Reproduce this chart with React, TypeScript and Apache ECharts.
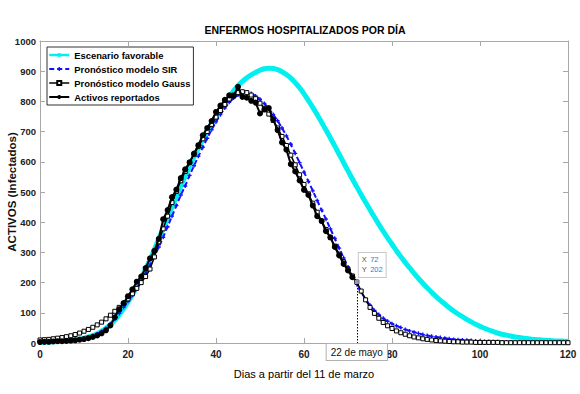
import React, { useEffect, useRef } from "react";
import * as echarts from "echarts";

const chartTitle = "ENFERMOS HOSPITALIZADOS POR DÍA";
const xAxisName = "Dias a partir del 11 de marzo";
const yAxisName = "ACTIVOS (Infectados)";
const seriesNames = [
  "Escenario favorable",
  "Pronóstico modelo SIR",
  "Pronóstico modelo Gauss",
  "Activos reportados",
];

// Escenario favorable, days 0..120
const favorableValues = [
  2, 3, 3, 4, 5, 6, 7, 9, 11, 13, 16, 20, 25, 31, 39, 49, 61, 76, 94, 114,
  136, 160, 186, 214, 244, 276, 310, 345, 380, 415, 450, 485, 520, 553, 585, 616, 646, 674, 701, 726,
  750, 772, 793, 812, 835, 852, 866, 878, 888, 896, 903, 908, 910, 909, 905, 898, 889, 877, 862, 845,
  825, 803, 780, 756, 731, 705, 679, 652, 625, 597, 570, 543, 517, 491, 466, 441, 417, 393, 370, 348,
  327, 306, 286, 267, 249, 231, 214, 198, 183, 168, 154, 141, 129, 117, 106, 96, 87, 78, 70, 62,
  55, 49, 43, 38, 33, 29, 26, 23, 20, 18, 16, 14, 12, 11, 10, 9, 8, 7, 7, 6, 6,
];

// Pronóstico modelo SIR, days 0..120
const sirValues = [
  2, 2, 3, 3, 4, 5, 6, 8, 10, 12, 15, 19, 24, 30, 38, 48, 62, 80, 98, 118,
  138, 158, 180, 204, 230, 258, 287, 318, 350, 385, 420, 455, 490, 520, 555, 587, 618, 648, 678, 706,
  732, 756, 778, 797, 811, 821, 827, 829, 826, 818, 807, 793, 776, 757, 736, 712, 686, 658, 628, 597,
  566, 535, 504, 472, 440, 410, 378, 346, 314, 282, 252, 222, 194, 168, 145, 125, 108, 94, 82, 72,
  64, 57, 51, 45, 40, 36, 32, 28, 25, 22, 20, 18, 16, 14, 12, 11, 10, 9, 8, 7,
  6, 5, 5, 4, 4, 3, 3, 3, 2, 2, 2, 2, 1, 1, 1, 1, 1, 1, 1, 1, 1,
];

// Pronóstico modelo Gauss, days 0..120
const gaussValues = [
  10, 11, 12, 14, 16, 18, 21, 24, 28, 33, 39, 45, 52, 60, 69, 80, 92, 105, 118, 131,
  146, 163, 181, 200, 220, 245, 285, 335, 378, 420, 465, 502, 537, 568, 598, 625, 651, 676, 700, 724,
  748, 770, 790, 808, 821, 829, 832, 829, 821, 809, 794, 777, 758, 737, 712, 684, 654, 622, 590, 557,
  525, 494, 463, 433, 404, 376, 349, 321, 294, 268, 244, 222, 202, 172, 143, 118, 98, 82, 68, 57,
  48, 40, 34, 29, 24, 20, 17, 14, 12, 10, 8, 7, 6, 5, 4, 4, 3, 3, 3, 2,
  2, 2, 2, 2, 2, 1, 1, 1, 1, 1, 1, 1, 1, 1, 1, 1, 1, 1, 1, 1, 1,
];

// Activos reportados, days 0..71
const reportedValues = [
  3, 4, 4, 5, 6, 6, 7, 8, 9, 11, 13, 16, 20, 25, 32, 42, 58, 85, 112, 132,
  155, 178, 203, 220, 248, 280, 305, 345, 410, 440, 483, 508, 546, 575, 598, 627, 655, 688, 712, 735,
  765, 786, 805, 820, 818, 848, 815, 812, 802, 796, 760, 773, 778, 740, 705, 664, 640, 592, 568, 538,
  507, 490, 455, 420, 404, 370, 350, 318, 290, 262, 240, 218,
];

const tipDay = 72;
const tipValue = 202;
const tipDateLabel = "22 de mayo";

const xMin = 0;
const xMax = 120;
const xInterval = 20;
const yMin = 0;
const yMax = 1000;
const yInterval = 100;

const FONT = '"Liberation Sans", Arial, Helvetica, sans-serif';
const AXIS_GRAY = "#a8a8a8";
const CYAN = "#00f0f0";
const BLUE = "#1010ff";

const toPairs = (vals: number[]) => vals.map((v, i) => [i, v]);

export default function App() {
  const ref = useRef<HTMLDivElement>(null);

  useEffect(() => {
    const chart = echarts.init(ref.current!, null, { renderer: "svg" });

    const axisCommon = {
      type: "value" as const,
      splitLine: { show: false },
      axisLine: { show: true, onZero: false, lineStyle: { color: AXIS_GRAY, width: 1 } },
      axisTick: { show: true, inside: true, length: 5, lineStyle: { color: AXIS_GRAY } },
    };

    chart.setOption({
      animation: false,
      backgroundColor: "#ffffff",
      textStyle: { fontFamily: FONT },
      grid: {
        left: 40,
        right: 12,
        top: 41,
        bottom: 51,
        containLabel: false,
        outerBoundsMode: "none",
      },
      graphic: [
        {
          type: "text",
          x: 305,
          y: 30,
          style: {
            text: chartTitle,
            align: "center",
            verticalAlign: "middle",
            font: `bold 10.5px ${FONT}`,
            fill: "#000",
          },
        },
      ],
      legend: {
        orient: "vertical",
        left: 47,
        top: 47,
        itemWidth: 20,
        itemHeight: 5,
        itemGap: 4,
        padding: [3, 3, 3, 1],
        borderColor: "#333",
        borderWidth: 1,
        backgroundColor: "#fff",
        borderRadius: 0,
        textStyle: { fontSize: 9.4, fontWeight: "bold", color: "#000", lineHeight: 10, fontFamily: FONT },
        data: [
          { name: seriesNames[0], lineStyle: { width: 2.5 } },
          { name: seriesNames[1], lineStyle: { width: 2 } },
          { name: seriesNames[2], lineStyle: { width: 1.5 } },
          { name: seriesNames[3], lineStyle: { width: 2 } },
        ],
      },
      xAxis: [
        {
          ...axisCommon,
          min: xMin,
          max: xMax,
          interval: xInterval,
          position: "bottom",
          name: xAxisName,
          nameLocation: "middle",
          nameGap: 25,
          nameMoveOverlap: false,
          nameTextStyle: { fontSize: 11, color: "#000", fontFamily: FONT },
          axisLabel: { fontSize: 10, color: "#222", margin: 6, fontWeight: "bold", fontFamily: FONT },
        },
        {
          ...axisCommon,
          min: xMin,
          max: xMax,
          interval: xInterval,
          position: "top",
          axisLabel: { show: false },
        },
      ],
      yAxis: [
        {
          ...axisCommon,
          min: yMin,
          max: yMax,
          interval: yInterval,
          position: "left",
          name: yAxisName,
          nameLocation: "middle",
          nameGap: 22,
          nameMoveOverlap: false,
          nameTextStyle: { fontSize: 11.5, fontWeight: "bold", color: "#111", fontFamily: FONT },
          axisLabel: {
            fontSize: 9.5,
            color: "#222",
            margin: 4,
            fontWeight: "bold",
            fontFamily: FONT,
            formatter: (v: number) => String(v),
          },
        },
        {
          ...axisCommon,
          min: yMin,
          max: yMax,
          interval: yInterval,
          position: "right",
          axisLabel: { show: false },
        },
      ],
      series: [
        {
          name: seriesNames[0],
          type: "line",
          data: toPairs(favorableValues),
          symbol: "circle",
          symbolSize: 5,
          showSymbol: false,
          smooth: true,
          lineStyle: { color: CYAN, width: 5 },
          itemStyle: { color: CYAN },
          z: 2,
        },
        {
          name: seriesNames[1],
          type: "line",
          data: toPairs(sirValues),
          symbol: "path://M-1,-3H1V-1H3V1H1V3H-1V1H-3V-1H-1Z",
          symbolSize: 4,
          lineStyle: { color: BLUE, width: 2, type: [5, 3] },
          itemStyle: { color: BLUE },
          z: 3,
        },
        {
          name: seriesNames[2],
          type: "line",
          data: toPairs(gaussValues),
          symbol: "rect",
          symbolSize: 4,
          lineStyle: { color: "#000", width: 1.5 },
          itemStyle: { color: "#fff", borderColor: "#000", borderWidth: 1 },
          z: 4,
          markLine: {
            silent: true,
            symbol: "none",
            label: { show: false },
            lineStyle: { color: "#000", type: [1.5, 1.5], width: 1 },
            data: [[{ coord: [tipDay, tipValue] }, { coord: [tipDay, 0] }]],
          },
          markPoint: {
            silent: true,
            data: [
              {
                coord: [tipDay, tipValue],
                symbol: "rect",
                symbolSize: 4,
                itemStyle: { color: "#999" },
                label: {
                  show: true,
                  position: [4, -27],
                  formatter: `{k|X} {v|${tipDay}}\n{k|Y} {v|${tipValue}}`,
                  backgroundColor: "#fff",
                  borderColor: "#c8c8c8",
                  borderWidth: 1,
                  padding: [2, 3, 2, 3],
                  lineHeight: 10,
                  rich: {
                    k: { fontSize: 7.5, color: "#555", fontFamily: FONT },
                    v: { fontSize: 7.5, color: "#2a7ae2", fontFamily: FONT },
                  },
                },
              },
              {
                coord: [tipDay, 0],
                symbol: "rect",
                symbolSize: 0,
                label: {
                  show: true,
                  position: "bottom",
                  distance: 1,
                  formatter: tipDateLabel,
                  fontSize: 10,
                  color: "#111",
                  fontFamily: FONT,
                  backgroundColor: "#fff",
                  borderColor: "#b0b0b0",
                  borderWidth: 1,
                  padding: [2, 4, 2, 4],
                  lineHeight: 12,
                },
              },
            ],
          },
        },
        {
          name: seriesNames[3],
          type: "line",
          data: toPairs(reportedValues),
          symbol: "circle",
          symbolSize: 6,
          lineStyle: { color: "#000", width: 2 },
          itemStyle: { color: "#000" },
          z: 5,
        },
      ],
    });

    return () => chart.dispose();
  }, []);

  return (
    <div
      ref={ref}
      style={{ position: "fixed", left: 0, top: 0, width: 580, height: 394, background: "#fff" }}
    />
  );
}
